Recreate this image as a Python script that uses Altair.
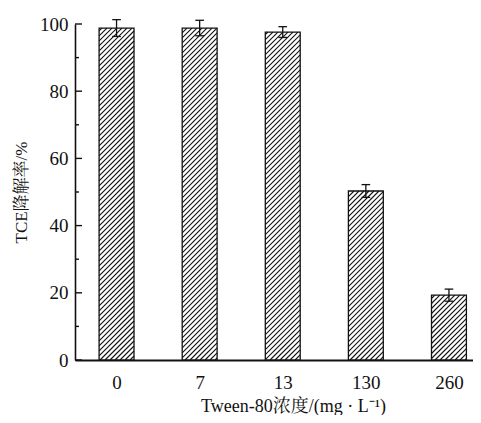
import altair as alt
import pandas as pd
import numpy as np

# ---- data ----
categories = ["0", "7", "13", "130", "260"]
values = [98.8, 98.8, 97.6, 50.3, 19.3]
errors = [2.5, 2.3, 1.6, 1.9, 1.8]
y_major = [0, 20, 40, 60, 80, 100]
y_minor = [10, 30, 50, 70, 90]

x_title = "Tween-80浓度/(mg · L⁻¹)"
y_title = "TCE降解率/%"

# ---- layout / style constants ----
W, H = 398, 336
X_MIN = -0.5
PX_PER_CAT = 83.1
X_MAX = X_MIN + W / PX_PER_CAT
BAR_HALF = 0.21
CAP_HALF = 0.052
HATCH_PX = 5.0
FONT = "Times New Roman, Liberation Serif, Noto Serif CJK SC, Noto Sans CJK SC"

idx = list(range(len(categories)))
bars = pd.DataFrame({"idx": idx, "cat": categories, "value": values, "err": errors})
bars["x1"] = bars["idx"] - BAR_HALF
bars["x2"] = bars["idx"] + BAR_HALF
bars["lo"] = bars["value"] - bars["err"]
bars["hi"] = bars["value"] + bars["err"]
bars["zero"] = 0.0

caps = pd.concat([
    pd.DataFrame({"cx1": bars["idx"] - CAP_HALF, "cx2": bars["idx"] + CAP_HALF, "cy": bars["hi"]}),
    pd.DataFrame({"cx1": bars["idx"] - CAP_HALF, "cx2": bars["idx"] + CAP_HALF, "cy": bars["lo"]}),
])

# hatch ("///") segments clipped to each bar, derived from the values
kx = W / (X_MAX - X_MIN)
ky = H / 100.0
segs = []
for _, r in bars.iterrows():
    Xl = (r["x1"] - X_MIN) * kx
    Xr = (r["x2"] - X_MIN) * kx
    Yt = r["value"] * ky
    k0 = int(np.floor((Xl - Yt) / HATCH_PX))
    k1 = int(np.ceil(Xr / HATCH_PX))
    for k in range(k0, k1 + 1):
        c = k * HATCH_PX
        a = max(Xl, c)
        b = min(Xr, c + Yt)
        if b - a > 0.3:
            segs.append({
                "hx1": a / kx + X_MIN, "hy1": (a - c) / ky,
                "hx2": b / kx + X_MIN, "hy2": (b - c) / ky,
            })
hatch = pd.DataFrame(segs)

major_df = pd.DataFrame({"t": y_major})
minor_df = pd.DataFrame({"t": y_minor})

xs = alt.Scale(domain=[X_MIN, X_MAX], nice=False, zero=False)
ys = alt.Scale(domain=[0, 100], nice=False, zero=True)

label_expr = "[" + ",".join("'%s'" % c for c in categories) + "][datum.value]"

x_axis = alt.Axis(
    values=idx, labelExpr=label_expr, ticks=False, grid=False,
    domainColor="#111", domainWidth=2, labelPadding=13,
    labelFont=FONT, labelFontSize=19, labelColor="#111",
    title=x_title, titleFont=FONT, titleFontSize=18, titleFontWeight="normal",
    titleColor="#111", titleX=218, titleY=51, titleAlign="center",
    titleBaseline="alphabetic",
)
y_axis = alt.Axis(
    values=y_major, ticks=False, grid=False, domainColor="#111", domainWidth=1.6,
    labelPadding=7, labelFont=FONT, labelFontSize=19, labelColor="#111",
    title=y_title, titleFont=FONT, titleFontSize=17, titleFontWeight="normal",
    titleColor="#111", titleX=-54, titleY=168, titleAngle=270, titleAlign="center",
    titleBaseline="middle",
)

fill = alt.Chart(bars).mark_rect(fill="white", strokeOpacity=0).encode(
    x=alt.X("x1:Q", scale=xs, axis=x_axis),
    x2="x2:Q",
    y=alt.Y("value:Q", scale=ys, axis=y_axis),
    y2="zero:Q",
)

hatch_layer = alt.Chart(hatch).mark_rule(color="#111", strokeWidth=1.1).encode(
    x=alt.X("hx1:Q", scale=xs), x2="hx2:Q",
    y=alt.Y("hy1:Q", scale=ys), y2="hy2:Q",
)

outline = alt.Chart(bars).mark_rect(fillOpacity=0, stroke="#111", strokeWidth=1.3).encode(
    x=alt.X("x1:Q", scale=xs), x2="x2:Q",
    y=alt.Y("value:Q", scale=ys), y2="zero:Q",
)

err_line = alt.Chart(bars).mark_rule(color="#111", strokeWidth=1.3).encode(
    x=alt.X("idx:Q", scale=xs),
    y=alt.Y("lo:Q", scale=ys), y2="hi:Q",
)

err_caps = alt.Chart(caps).mark_rule(color="#111", strokeWidth=1.3).encode(
    x=alt.X("cx1:Q", scale=xs), x2="cx2:Q",
    y=alt.Y("cy:Q", scale=ys),
)

major_ticks = alt.Chart(major_df).mark_rule(color="#111", strokeWidth=1.4).encode(
    x=alt.value(0), x2=alt.value(7),
    y=alt.Y("t:Q", scale=ys),
)
minor_ticks = alt.Chart(minor_df).mark_rule(color="#111", strokeWidth=1.4).encode(
    x=alt.value(0), x2=alt.value(4),
    y=alt.Y("t:Q", scale=ys),
)

chart = alt.layer(fill, hatch_layer, outline, err_line, err_caps, major_ticks, minor_ticks).properties(
    width=W, height=H,
    autosize=alt.AutoSizeParams(type="none"),
    padding={"left": 67, "top": 16, "right": 0, "bottom": 55},
    background="white",
).configure_view(stroke=None)

chart.save("out.html", embed_options={"renderer": "svg", "actions": False})
